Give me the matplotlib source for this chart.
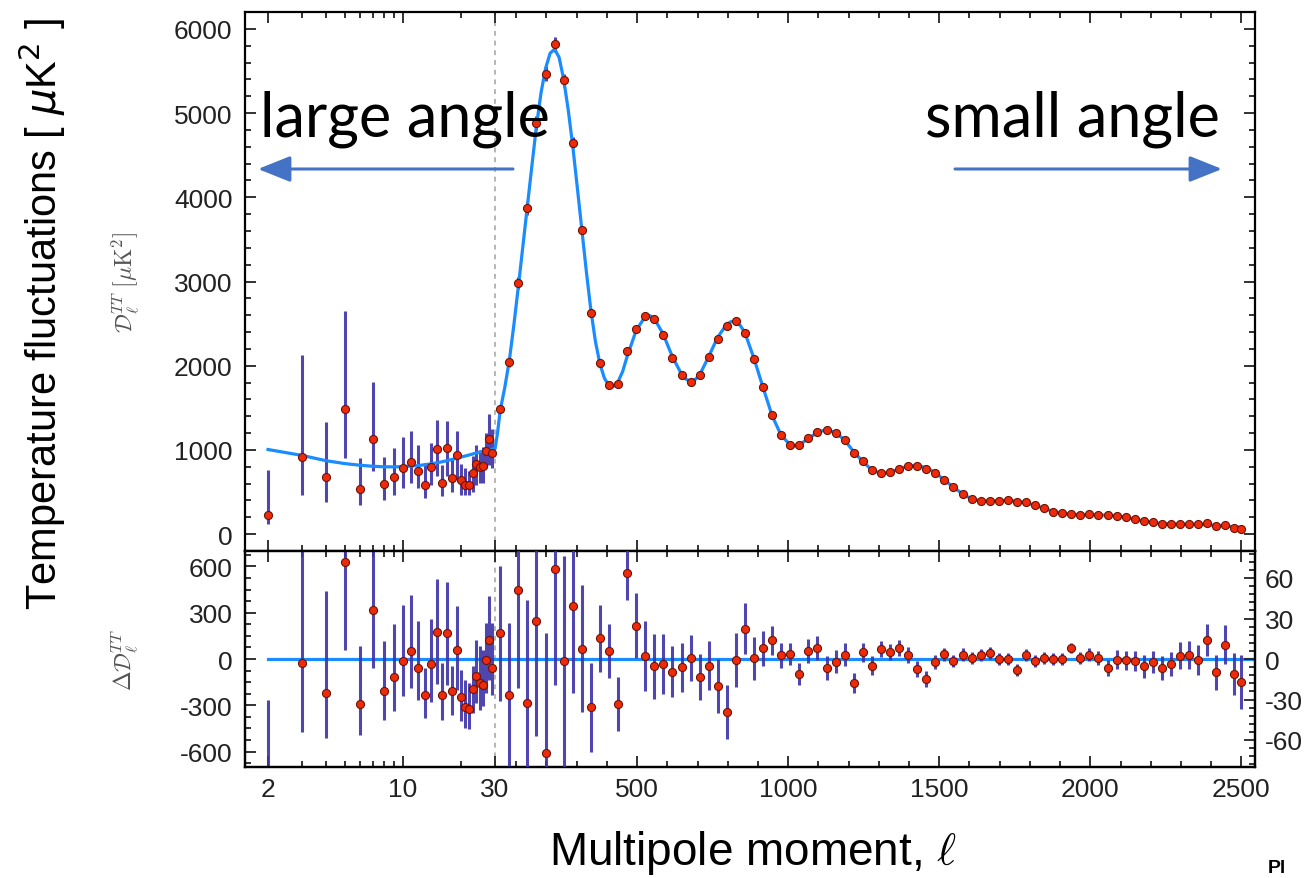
import numpy as np
import matplotlib
matplotlib.use("Agg")
import matplotlib.pyplot as plt
from matplotlib.ticker import FixedLocator, MultipleLocator, FuncFormatter
from matplotlib.patches import FancyArrowPatch

# ---- low-ell (unbinned) points, 2 <= ell <= 29 ----
low_ell = [2, 3, 4, 5, 6, 7, 8, 9, 10, 11, 12, 13, 14, 15, 16, 17, 18, 19, 20,
           21, 22, 23, 24, 25, 26, 27, 28, 29]
low_dl = [230, 917, 674, 1485, 538, 1131, 597, 683, 790, 853, 747, 580, 794, 1007,
          602, 1024, 662, 939, 645, 585, 585, 730, 832, 802, 811, 986, 1131, 964]
low_dl_lo = [120, 470, 376, 909, 346, 747, 406, 461, 546, 610, 546, 431, 589, 696,
             448, 696, 504, 653, 461, 461, 461, 504, 589, 610, 610, 781, 824, 781]
low_dl_hi = [760, 2125, 1336, 2646, 909, 1805, 917, 1028, 1157, 1221, 1058, 845, 1080, 1357,
             824, 1348, 909, 1221, 836, 781, 747, 930, 1058, 994, 1036, 1207, 1421, 1250]
low_res = [-790, -26, -220, 626, -289, 320, -205, -119, -15, 50, -58, -231, -30, 175,
           -233, 168, -205, 60, -244, -313, -324, -194, -112, -155, -166, -4, 125, -58]
low_res_lo = [-1500, -475, -512, 56, -490, -58, -397, -339, -242, -188, -268, -382, -279, -162,
              -393, -166, -361, -199, -404, -447, -454, -350, -285, -328, -307, -220, -134, -231]
low_res_hi = [-264, 1200, 438, 1400, 82, 1100, 114, 227, 352, 417, 248, -58, 259, 520,
              -26, 497, -43, 346, -69, -134, -156, -43, 125, 82, 60, 233, 406, 233]

# ---- binned high-ell points ----
hi_ell = [47, 77, 107, 137, 167, 197, 227, 257, 287, 317, 347, 377, 407, 437, 467, 497,
          527, 557, 587, 617, 647, 677, 707, 737, 767, 797, 827, 857, 887, 917, 947, 977,
          1007, 1037, 1067, 1097, 1127, 1157, 1187, 1217, 1247, 1277, 1307, 1337, 1367,
          1397, 1427, 1457, 1487, 1517, 1547, 1577, 1607, 1637, 1667, 1697, 1727, 1757,
          1787, 1817, 1847, 1877, 1907, 1937, 1967, 1997, 2027, 2057, 2087, 2117, 2147,
          2177, 2207, 2237, 2267, 2297, 2327, 2357, 2387, 2417, 2447, 2477, 2500]
hi_dl = [1489, 2042, 2985, 3870, 4885, 5465, 5815, 5390, 4645, 3615, 2630, 2033, 1768, 1780,
         2170, 2435, 2586, 2552, 2365, 2097, 1893, 1812, 1884, 2106, 2323, 2467, 2526, 2394,
         2084, 1744, 1416, 1174, 1063, 1055, 1140, 1212, 1238, 1204, 1119, 962, 864, 757,
         723, 736, 778, 813, 813, 778, 727, 642, 557, 480, 416, 396, 396, 396, 404, 384,
         376, 345, 305, 269, 246, 242, 230, 234, 230, 226, 218, 198, 178, 154, 139, 123,
         119, 119, 119, 115, 127, 95, 109, 75, 61]
hi_res = [18.9, -26.6, 51.2, -32.5, 28.3, -69.6, 66.4, -1.7, 39.6, 7.6, -35.7, 15.3, 5.7,
          -33.7, 64.0, 24.6, 2.3, -5.4, -3.7, -9.4, -6.2, 0.7, -13.3, -4.9, -19.8, -39.5,
          -0.5, 22.5, 0.5, 8.1, 13.8, 2.7, 3.7, -11.1, 5.7, 8.1, -6.7, -2.2, 3.0, -17.8,
          4.9, -4.9, 7.4, 5.2, 7.9, 3.0, -7.4, -14.8, -2.2, 3.5, -1.6, 3.3, 0.6, 3.1, 4.3,
          0.1, 0.0, -8.4, 3.2, -1.2, 0.7, 0.0, 0.0, 8.2, 0.7, 3.2, 0.7, -6.7, -0.5, -1.0,
          -1.7, -5.4, -2.2, -6.7, -3.5, 2.5, 3.2, -0.5, 14.3, -9.9, 10.6, -10.9, -17.3]
hi_err = [50, 53, 73, 76, 85, 89, 86, 78, 65, 47, 33, 25, 20, 20, 20, 24, 26, 24, 22, 19,
          18, 17, 17, 18, 20, 20, 20, 19, 16, 13, 11, 9, 8.5, 8, 9, 9, 9, 8.5, 8.5, 7.5, 7,
          7, 6, 6, 6, 6, 6, 6, 5.5, 5, 4.5, 4.5, 4.5, 4.5, 4.5, 4.5, 4.5, 4.5, 4.5, 4.5,
          4.5, 4.5, 4.5, 4, 4.5, 5, 5.5, 6, 6.8, 7, 7.4, 8.7, 8, 8.7, 9, 10, 10.5, 11, 11.8,
          13, 14.5, 15.5, 20]

# ---- best-fit model curve ----
th_ell = [2, 3, 4, 5, 6, 7, 8, 9, 10, 12, 14, 16, 18, 20, 22, 25, 28, 30, 38, 47, 62, 77,
          92, 107, 122, 137, 152, 167, 182, 197, 212, 227, 242, 257, 272, 287, 302, 317,
          332, 347, 362, 377, 392, 407, 422, 437, 452, 467, 497, 527, 542, 557, 587, 617,
          647, 662, 677, 692, 707, 737, 767, 797, 812, 827, 842, 857, 887, 917, 947, 977,
          1007, 1022, 1037, 1067, 1097, 1127, 1157, 1187, 1217, 1247, 1277, 1307, 1337,
          1367, 1397, 1427, 1457, 1487, 1517, 1547, 1577, 1607, 1637, 1667, 1697, 1727,
          1757, 1787, 1817, 1847, 1877, 1907, 1937, 1967, 1997, 2027, 2057, 2087, 2117,
          2147, 2177, 2207, 2237, 2267, 2297, 2327, 2357, 2387, 2417, 2447, 2477, 2500]
th_dl = [1005, 935, 872, 838, 818, 806, 800, 799, 802, 814, 835, 860, 888, 915, 940, 975,
         1000, 1016, 1200, 1470, 1740, 2060, 2480, 2940, 3420, 3900, 4380, 4850, 5240, 5530,
         5710, 5760, 5660, 5400, 5040, 4610, 4120, 3620, 3120, 2660, 2290, 2020, 1850, 1765,
         1755, 1810, 1930, 2110, 2420, 2585, 2595, 2560, 2370, 2105, 1900, 1840, 1815, 1835,
         1890, 2110, 2340, 2495, 2525, 2520, 2475, 2390, 2085, 1740, 1405, 1172, 1060, 1048,
         1060, 1137, 1208, 1242, 1205, 1117, 978, 862, 762, 720, 733, 773, 810, 816, 788,
         730, 642, 558, 478, 418, 396, 393, 395, 402, 390, 372, 344, 305, 270, 247, 236, 230,
         230, 228, 225, 218, 200, 178, 156, 139, 126, 120, 118, 117, 115, 112, 103, 98, 86, 78]

x_major = [2, 10, 30, 500, 1000, 1500, 2000, 2500]
x_minor = [3, 4, 5, 6, 7, 8, 9, 20] + [v for v in range(100, 2500, 100) if v % 500]

# hybrid axis: log below ell=30, linear above
K = 639.0


def fwd(l):
    l = np.asarray(l, dtype=float)
    with np.errstate(divide="ignore", invalid="ignore"):
        return np.where(l < 30, 30 + K * np.log10(np.clip(l, 1e-6, None) / 30.0), l)


def inv(x):
    x = np.asarray(x, dtype=float)
    with np.errstate(over="ignore"):
        return np.where(x < 30, 30 * 10 ** ((np.minimum(x, 30) - 30) / K), x)


plt.rcParams["font.family"] = ["Liberation Sans", "DejaVu Sans"]
plt.rcParams["axes.unicode_minus"] = False
W, H = 1310, 879
fig = plt.figure(figsize=(W / 100, H / 100), dpi=100)


def box(x0, y0, x1, y1):
    return [x0 / W, 1 - y1 / H, (x1 - x0) / W, (y1 - y0) / H]


ax = fig.add_axes(box(245, 13, 1255, 552))
axr = fig.add_axes(box(245, 552, 1255, 768), sharex=ax)
ax.set_xscale("function", functions=(fwd, inv))
ax.set_xlim(1.52, 2545)
axr2 = axr.twinx()

red = "#ee2a0b"
edge = "#6a1405"
ecol = "#3d32a6"
blue = "#1a8cff"

# top panel
ax.axvline(30, color="#b5b5b5", ls=(0, (2.5, 2.5)), lw=1.4, zorder=1)
ax.errorbar(low_ell, low_dl,
            yerr=[np.subtract(low_dl, low_dl_lo), np.subtract(low_dl_hi, low_dl)],
            fmt="none", ecolor=ecol, elinewidth=2.2, alpha=0.9, zorder=2)
ax.errorbar(hi_ell, hi_dl, yerr=hi_err, fmt="none", ecolor=ecol, elinewidth=2.2,
            alpha=0.9, zorder=2)
ax.plot(th_ell, th_dl, color=blue, lw=2.3, zorder=3)
ax.plot(low_ell + hi_ell, low_dl + hi_dl, "o", ms=5.8, mfc=red, mec=edge, mew=0.8, zorder=4)
ax.set_ylim(-200, 6200)
ax.yaxis.set_major_locator(MultipleLocator(1000))
ax.yaxis.set_minor_locator(MultipleLocator(200))

# residual panel
axr.axvline(30, color="#b5b5b5", ls=(0, (2.5, 2.5)), lw=1.4, zorder=1)
axr.plot([2, 2545], [0, 0], color=blue, lw=2.3, zorder=2)
axr.errorbar(low_ell, low_res,
             yerr=[np.subtract(low_res, low_res_lo), np.subtract(low_res_hi, low_res)],
             fmt="none", ecolor=ecol, elinewidth=2.2, alpha=0.9, zorder=3)
axr.plot(low_ell, low_res, "o", ms=5.8, mfc=red, mec=edge, mew=0.8, zorder=4)
axr.set_ylim(-700, 700)
axr.set_yticks([-600, -300, 0, 300, 600])
axr.yaxis.set_minor_locator(MultipleLocator(75))

axr2.errorbar(hi_ell, hi_res, yerr=hi_err, fmt="none", ecolor=ecol, elinewidth=2.2,
              alpha=0.9, zorder=3)
axr2.plot(hi_ell, hi_res, "o", ms=5.8, mfc=red, mec=edge, mew=0.8, zorder=4)
axr2.set_ylim(-80, 80)
axr2.set_yticks([-60, -30, 0, 30, 60])
axr2.yaxis.set_minor_locator(MultipleLocator(6))

ax.xaxis.set_major_locator(FixedLocator(x_major))
ax.xaxis.set_minor_locator(FixedLocator(x_minor))
axr.xaxis.set_major_formatter(FuncFormatter(lambda v, p: f"{v:g}"))

for a in (ax, axr, axr2):
    for s in a.spines.values():
        s.set_linewidth(1.6)
    a.tick_params(which="both", direction="in", width=1.3, labelsize=19, colors="#222222")
    a.tick_params(which="major", length=8)
    a.tick_params(which="minor", length=4.5)

ax.tick_params(which="both", top=True, bottom=True, left=True, right=True,
               labelbottom=False, pad=9)
axr.tick_params(which="both", top=True, bottom=True, left=True, right=False, pad=9)
axr.tick_params(axis="x", pad=7)
axr2.tick_params(which="both", right=True, pad=7)

# axis labels
fig.text(125 / W, 1 - 282 / H, r"$\mathcal{D}_{\ell}^{TT}\;[\mu{\rm K}^2]$", rotation=90,
         ha="center", va="center", fontsize=17, color="#555555", math_fontfamily="cm")
fig.text(125 / W, 1 - 660 / H, r"$\Delta\mathcal{D}_{\ell}^{TT}$", rotation=90,
         ha="center", va="center", fontsize=17, color="#555555", math_fontfamily="cm")
fig.text(42 / W, 1 - 314 / H, r"Temperature fluctuations [ $\mu$K$^2$ ]", rotation=90,
         ha="center", va="center", fontsize=30, math_fontfamily="dejavusans")
fig.text(753 / W, 1 - 853 / H, r"Multipole moment, $\ell$", ha="center", va="center",
         fontsize=33, math_fontfamily="cm")

# slide annotations
fig.text(405 / W, 1 - 137 / H, "large angle", family="Lato", fontsize=44,
         ha="center", va="baseline")
fig.text(1072 / W, 1 - 137 / H, "small angle", family="Lato", fontsize=44,
         ha="center", va="baseline")
arrow_kw = dict(arrowstyle="-|>,head_length=1.0,head_width=0.4", mutation_scale=20,
                lw=2.2, color="#4472c4", transform=fig.transFigure, shrinkA=0, shrinkB=0)
fig.add_artist(FancyArrowPatch((513 / W, 1 - 170 / H), (258 / W, 1 - 170 / H), **arrow_kw))
fig.add_artist(FancyArrowPatch((955 / W, 1 - 170 / H), (1222 / W, 1 - 170 / H), **arrow_kw))
fig.text(1268 / W, 2 / H, "Pl", fontsize=14, va="bottom", fontweight="bold")

fig.savefig("out.png", dpi=100)
